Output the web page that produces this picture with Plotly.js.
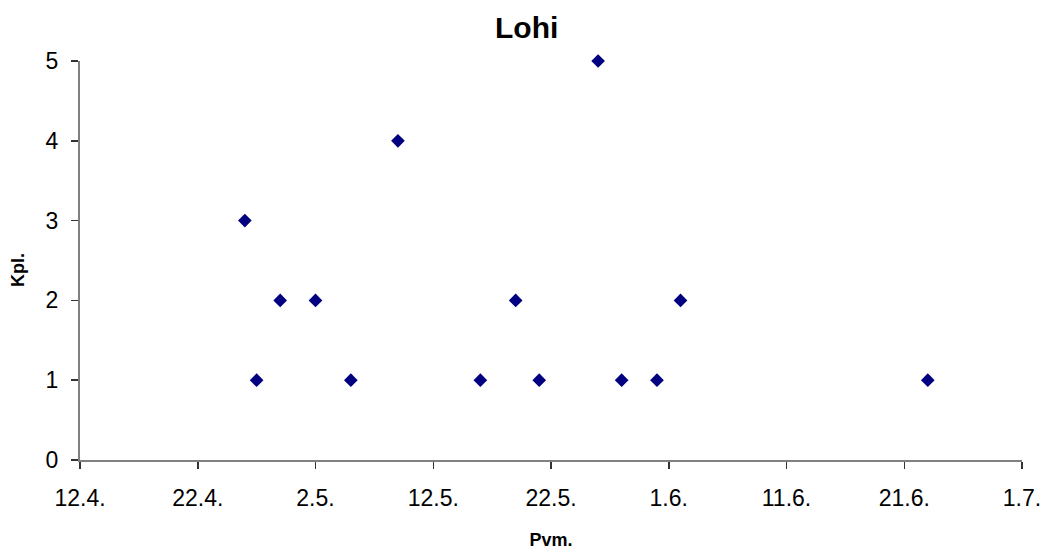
<!DOCTYPE html>
<html>
<head>
<meta charset="utf-8">
<script src="https://cdn.plot.ly/plotly-3.0.1.min.js"></script>
<style>html,body{margin:0;padding:0;background:#fff;}#chart{width:1045px;height:552px;}</style>
</head>
<body>
<div id="chart"></div>
<script>
var dates = ['2009-04-26','2009-04-27','2009-04-29','2009-05-02','2009-05-05','2009-05-09','2009-05-16','2009-05-19','2009-05-21','2009-05-26','2009-05-28','2009-05-31','2009-06-02','2009-06-23'];
var counts = [3,1,2,2,1,4,1,2,1,5,1,1,2,1];
var chartTitle = 'Lohi';
var xTitle = 'Pvm.';
var yTitle = 'Kpl.';

var trace = {
  x: dates, y: counts, type: 'scatter', mode: 'markers',
  marker: {symbol: 'diamond', size: 10.5, color: '#000080'},
  cliponaxis: false,
  hoverinfo: 'x+y'
};
var layout = {
  width: 1045, height: 552,
  margin: {l: 80, r: 23, t: 61, b: 92},
  paper_bgcolor: '#ffffff', plot_bgcolor: '#ffffff',
  showlegend: false,
  font: {family: 'Liberation Sans, Arial, sans-serif', color: '#000'},
  title: {text: '<b>' + chartTitle + '</b>', font: {size: 30, color: '#000'}, x: 0.504, xref: 'container', y: 0.95, yref: 'container', yanchor: 'middle'},
  xaxis: {
    type: 'date', range: ['2009-04-12', '2009-07-01'],
    tick0: '2009-04-12', dtick: 864000000, tickformat: '%-d.%-m.',
    showgrid: false, zeroline: false,
    showline: true, linecolor: '#808080', linewidth: 2,
    ticks: 'outside', ticklen: 7, tickwidth: 1.5, tickcolor: '#333',
    ticklabelstandoff: 9,
    tickfont: {size: 23, color: '#000'},
    title: {text: '<b>' + xTitle + '</b>', font: {size: 18, color: '#000'}, standoff: 24}
  },
  yaxis: {
    range: [0, 5], tick0: 0, dtick: 1,
    showgrid: false, zeroline: false,
    showline: true, linecolor: '#808080', linewidth: 2,
    ticks: 'outside', ticklen: 7, tickwidth: 1.5, tickcolor: '#333',
    ticklabelstandoff: 8,
    tickfont: {size: 23, color: '#000'}
  },
  annotations: [{
    text: '<b>' + yTitle + '</b>', textangle: -90, showarrow: false,
    xref: 'paper', yref: 'paper', x: -0.0658, xanchor: 'center', y: 0.476, yanchor: 'middle',
    font: {size: 18, color: '#000'}
  }]
};
Plotly.newPlot('chart', [trace], layout, {displayModeBar: false, staticPlot: true});
</script>
</body>
</html>
